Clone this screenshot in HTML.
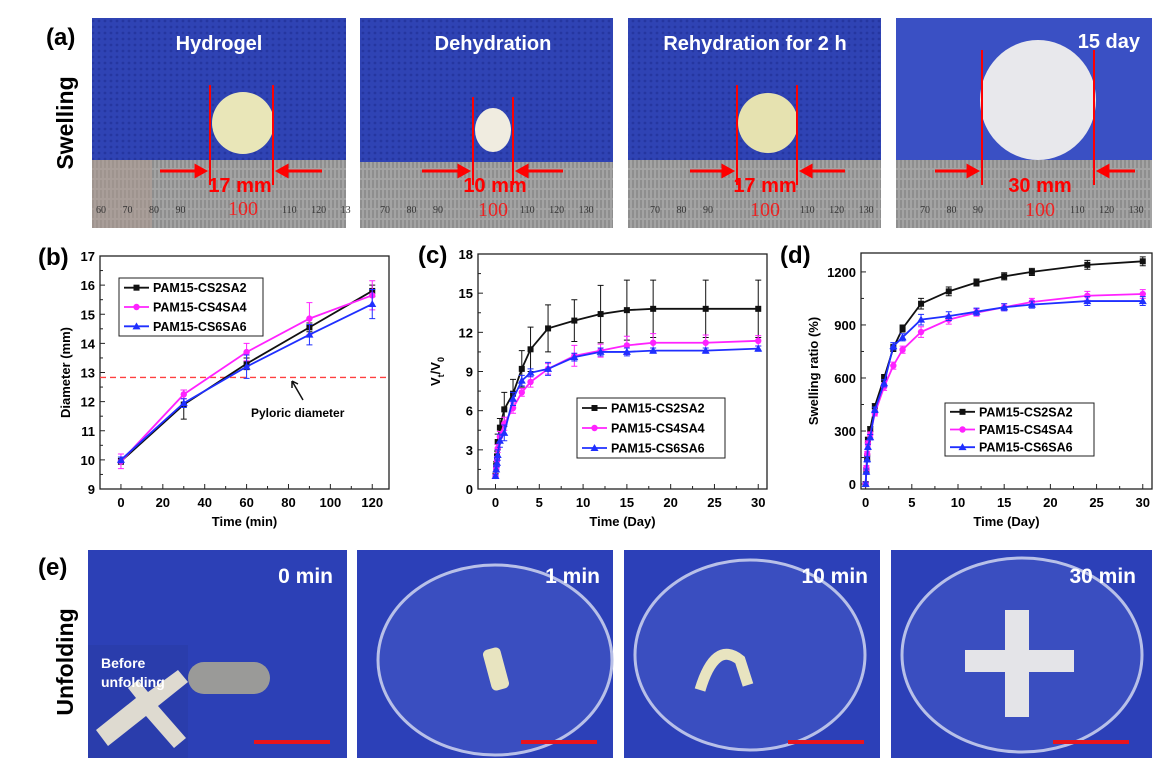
<!DOCTYPE html>
<html><head><meta charset="utf-8"><style>
body{margin:0;background:#fff}
svg{display:block;font-family:"Liberation Sans",Arial,sans-serif}
</style></head><body>
<svg id="fig" width="1170" height="768" viewBox="0 0 1170 768" xmlns="http://www.w3.org/2000/svg">
<defs>
<pattern id="mesh" width="6" height="6" patternUnits="userSpaceOnUse"><rect width="6" height="6" fill="#2f43b4"/><circle cx="3" cy="3" r="1.4" fill="#2536a0"/></pattern>
<pattern id="rul" width="4" height="10" patternUnits="userSpaceOnUse"><rect width="4" height="10" fill="#a3a3a3"/><line x1="1" y1="0" x2="1" y2="8" stroke="#6f6f6f" stroke-width="0.8"/></pattern>
</defs>
<text x="46" y="45" font-size="24" font-weight="bold">(a)</text>
<text transform="translate(73,123) rotate(-90)" text-anchor="middle" font-size="23" font-weight="bold">Swelling</text>
<g>
<rect x="92" y="18" width="254" height="210" fill="url(#mesh)"/>
<rect x="92" y="160" width="254" height="68" fill="url(#rul)"/>
<rect x="92" y="160" width="60" height="68" fill="#b09a90" opacity="0.5"/>
<circle cx="243" cy="123" r="31" fill="#e9e6b8"/>
<line x1="210" y1="85" x2="210" y2="185" stroke="#f00" stroke-width="2"/><line x1="273" y1="85" x2="273" y2="185" stroke="#f00" stroke-width="2"/>
<path d="M160 171 H205 M205 171 l-9 -5 v10z M322 171 H278 M278 171 l9 -5 v10z" stroke="#f00" stroke-width="3" fill="#f00"/>
<text x="240" y="192" text-anchor="middle" font-size="20" font-weight="bold" fill="#f00">17 mm</text>
<text x="243" y="215" text-anchor="middle" font-size="20" fill="#e22" font-family="Liberation Serif">100</text>
<text x="96" y="213" font-size="10" fill="#333" font-family="Liberation Serif" word-spacing="14">60 70 80 90</text>
<text x="282" y="213" font-size="10" fill="#333" font-family="Liberation Serif" word-spacing="12">110 120 13</text>
<text x="219" y="50" text-anchor="middle" font-size="20" font-weight="bold" fill="#fff">Hydrogel</text>
</g>
<g>
<rect x="360" y="18" width="253" height="210" fill="url(#mesh)"/>
<rect x="360" y="162" width="253" height="66" fill="url(#rul)"/>
<ellipse cx="493" cy="130" rx="18" ry="22" fill="#f0ece0"/>
<line x1="473" y1="97" x2="473" y2="185" stroke="#f00" stroke-width="2"/><line x1="513" y1="97" x2="513" y2="185" stroke="#f00" stroke-width="2"/>
<path d="M422 171 H468 M468 171 l-9 -5 v10z M563 171 H518 M518 171 l9 -5 v10z" stroke="#f00" stroke-width="3" fill="#f00"/>
<text x="495" y="192" text-anchor="middle" font-size="20" font-weight="bold" fill="#f00">10 mm</text>
<text x="493" y="216" text-anchor="middle" font-size="20" fill="#e22" font-family="Liberation Serif">100</text>
<text x="380" y="213" font-size="10" fill="#333" font-family="Liberation Serif" word-spacing="14">70 80 90</text>
<text x="520" y="213" font-size="10" fill="#333" font-family="Liberation Serif" word-spacing="12">110 120 130</text>
<text x="493" y="50" text-anchor="middle" font-size="20" font-weight="bold" fill="#fff">Dehydration</text>
</g>
<g>
<rect x="628" y="18" width="253" height="210" fill="url(#mesh)"/>
<rect x="628" y="160" width="253" height="68" fill="url(#rul)"/>
<circle cx="768" cy="123" r="30" fill="#e6e2b0"/>
<line x1="737" y1="85" x2="737" y2="185" stroke="#f00" stroke-width="2"/><line x1="797" y1="85" x2="797" y2="185" stroke="#f00" stroke-width="2"/>
<path d="M690 171 H732 M732 171 l-9 -5 v10z M845 171 H802 M802 171 l9 -5 v10z" stroke="#f00" stroke-width="3" fill="#f00"/>
<text x="765" y="192" text-anchor="middle" font-size="20" font-weight="bold" fill="#f00">17 mm</text>
<text x="765" y="216" text-anchor="middle" font-size="20" fill="#e22" font-family="Liberation Serif">100</text>
<text x="650" y="213" font-size="10" fill="#333" font-family="Liberation Serif" word-spacing="14">70 80 90</text>
<text x="800" y="213" font-size="10" fill="#333" font-family="Liberation Serif" word-spacing="12">110 120 130</text>
<text x="755" y="50" text-anchor="middle" font-size="20" font-weight="bold" fill="#fff">Rehydration for 2 h</text>
</g>
<g>
<rect x="896" y="18" width="256" height="210" fill="#3a50c4"/>
<rect x="896" y="160" width="256" height="68" fill="url(#rul)"/>
<ellipse cx="1038" cy="100" rx="58" ry="60" fill="#e8e8ec"/>
<line x1="982" y1="50" x2="982" y2="185" stroke="#f00" stroke-width="2"/><line x1="1094" y1="50" x2="1094" y2="185" stroke="#f00" stroke-width="2"/>
<path d="M935 171 H977 M977 171 l-9 -5 v10z M1135 171 H1099 M1099 171 l9 -5 v10z" stroke="#f00" stroke-width="3" fill="#f00"/>
<text x="1040" y="192" text-anchor="middle" font-size="20" font-weight="bold" fill="#f00">30 mm</text>
<text x="1040" y="216" text-anchor="middle" font-size="20" fill="#e22" font-family="Liberation Serif">100</text>
<text x="920" y="213" font-size="10" fill="#333" font-family="Liberation Serif" word-spacing="14">70 80 90</text>
<text x="1070" y="213" font-size="10" fill="#333" font-family="Liberation Serif" word-spacing="12">110 120 130</text>
<text x="1140" y="48" text-anchor="end" font-size="20" font-weight="bold" fill="#fff">15 day</text>
</g>
<text x="38" y="265" font-size="24" font-weight="bold">(b)</text>
<text x="418" y="263" font-size="24" font-weight="bold">(c)</text>
<text x="780" y="263" font-size="24" font-weight="bold">(d)</text>
<g id="chartB"></g>
<g id="chartC"></g>
<g id="chartD"></g>
<text x="38" y="575" font-size="24" font-weight="bold">(e)</text>
<text transform="translate(73,662) rotate(-90)" text-anchor="middle" font-size="23" font-weight="bold">Unfolding</text>
<g>
<rect x="88" y="550" width="259" height="208" fill="#2c40b6"/>
<rect x="88" y="645" width="100" height="113" fill="#2a3dac"/>
<rect x="188" y="662" width="82" height="32" rx="16" fill="#9a9a98"/>
<path d="M96 730 l40 -32 l-8 -10 l10 -8 l10 12 l30 -22 l10 12 l-30 24 l28 32 l-12 10 l-28 -32 l-38 30z" fill="#dedad0"/>
<text x="101" y="668" font-size="14" font-weight="bold" fill="#fff">Before</text>
<text x="101" y="687" font-size="14" font-weight="bold" fill="#fff">unfolding</text>
<text x="333" y="583" text-anchor="end" font-size="21" font-weight="bold" fill="#fff">0 min</text>
<rect x="254" y="740" width="76" height="4" fill="#e8141c"/>
</g>
<g>
<rect x="357" y="550" width="256" height="208" fill="#2c40b8"/>
<ellipse cx="495" cy="660" rx="117" ry="95" fill="#3a4ec0" stroke="#b8c0e8" stroke-width="3"/>
<rect x="487" y="648" width="18" height="42" rx="5" fill="#e8e4c0" transform="rotate(-15 496 669)"/>
<text x="600" y="583" text-anchor="end" font-size="21" font-weight="bold" fill="#fff">1 min</text>
<rect x="521" y="740" width="76" height="4" fill="#e8141c"/>
</g>
<g>
<rect x="624" y="550" width="256" height="208" fill="#2c40b8"/>
<ellipse cx="750" cy="655" rx="115" ry="95" fill="#3a4ec0" stroke="#b8c0e8" stroke-width="3"/>
<path d="M700 690 q15 -50 40 -30 l8 25" stroke="#e8e4c0" stroke-width="11" fill="none"/>
<text x="868" y="583" text-anchor="end" font-size="21" font-weight="bold" fill="#fff">10 min</text>
<rect x="788" y="740" width="76" height="4" fill="#e8141c"/>
</g>
<g>
<rect x="891" y="550" width="261" height="208" fill="#2c40b8"/>
<ellipse cx="1022" cy="655" rx="120" ry="97" fill="#3a4ec0" stroke="#b8c0e8" stroke-width="3"/>
<path d="M1005 610 h24 v40 h45 v22 h-45 v45 h-24 v-45 h-40 v-22 h40z" fill="#e4e4e8"/>
<text x="1136" y="583" text-anchor="end" font-size="21" font-weight="bold" fill="#fff">30 min</text>
<rect x="1053" y="740" width="76" height="4" fill="#e8141c"/>
</g>
</svg>
<script>
const seriesNames = ["PAM15-CS2SA2","PAM15-CS4SA4","PAM15-CS6SA6"];
const bTimes = [0,30,60,90,120];
const bBlack = [9.95,11.9,13.3,14.55,15.8];
const bMagenta = [9.95,12.25,13.7,14.85,15.65];
const bBlue = [10,11.95,13.2,14.3,15.35];
const bBlackErr = [0.1,0.5,0.2,0.15,0.2];
const bMagentaErr = [0.25,0.15,0.3,0.55,0.5];
const bBlueErr = [0.1,0.15,0.4,0.35,0.5];
const bPyloric = 12.83;
const bYTicks = [9,10,11,12,13,14,15,16,17];
const bXTicks = [0,20,40,60,80,100,120];

const cdTimes = [0,0.08,0.17,0.25,0.5,1,2,3,4,6,9,12,15,18,24,30];
const cBlack = [1,1.8,2.5,3.6,4.7,6.1,7.3,9.2,10.7,12.3,12.9,13.4,13.7,13.8,13.8,13.8];
const cMagenta = [1,1.6,2.2,3.1,4.0,5.0,6.2,7.4,8.2,9.2,10.2,10.6,11.0,11.2,11.2,11.35];
const cBlue = [1,1.5,2.0,2.6,3.7,4.3,6.9,8.3,8.9,9.2,10.1,10.5,10.5,10.6,10.6,10.75];
const cBlackErr = [0.2,0.3,0.4,0.6,0.7,1.3,1.1,1.4,1.7,1.8,1.6,2.2,2.3,2.2,2.2,2.2];
const cMagentaErr = [0.1,0.2,0.3,0.3,0.4,0.5,0.4,0.3,0.4,0.4,0.8,0.5,0.7,0.7,0.6,0.4];
const cBlueErr = [0.1,0.2,0.3,0.4,0.5,0.6,0.5,0.4,0.3,0.5,0.3,0.3,0.3,0.2,0.2,0.2];
const cYTicks = [0,3,6,9,12,15,18];
const cdXTicks = [0,5,10,15,20,25,30];

const dBlack = [0,80,150,250,310,440,600,770,880,1020,1090,1140,1175,1200,1240,1260];
const dMagenta = [0,90,170,230,280,400,550,670,760,860,930,970,1000,1030,1065,1075];
const dBlue = [0,70,140,210,265,420,570,780,830,930,950,975,1000,1015,1035,1035];
const dErr = [10,15,15,15,15,15,20,20,20,30,25,20,20,20,25,25];
const dYTicks = [0,300,600,900,1200];

const NS="http://www.w3.org/2000/svg";
function mk(parent,tag,attrs){const e=document.createElementNS(NS,tag);for(const k in attrs)e.setAttribute(k,attrs[k]);parent.appendChild(e);return e;}
const colors=["#111","#ff22ff","#1f2fff"];
function marker(g,shape,x,y,c){
  let m;
  if(shape===0) m=mk(g,"rect",{x:x-3,y:y-3,width:6,height:6,fill:c});
  else if(shape===1) m=mk(g,"circle",{cx:x,cy:y,r:3.2,fill:c});
  else m=mk(g,"path",{d:`M${x} ${y-4}L${x+4} ${y+3}L${x-4} ${y+3}Z`,fill:c});
  return m;
}
function chart(g,o){
  const X=v=>o.L+(v-o.x0)/(o.x1-o.x0)*(o.R-o.L);
  const Y=v=>o.B-(v-o.y0)/(o.y1-o.y0)*(o.B-o.T);
  const f=mk(g,"rect",{x:o.L,y:o.T,width:o.R-o.L,height:o.B-o.T,fill:"none",stroke:"#222","stroke-width":1.3});
  
  
  o.xt.forEach((t,i)=>{
    mk(g,"line",{x1:X(t),x2:X(t),y1:o.B,y2:o.B-5,stroke:"#222"});
    const tx=mk(g,"text",{x:X(t),y:o.B+18,"text-anchor":"middle","font-size":13,"font-weight":"bold"});tx.textContent=t;
    
    
    if(i<o.xt.length-1){const h=(t+o.xt[i+1])/2;mk(g,"line",{x1:X(h),x2:X(h),y1:o.B,y2:o.B-3,stroke:"#222"});}
  });
  o.yt.forEach((t,i)=>{
    mk(g,"line",{x1:o.L,x2:o.L+5,y1:Y(t),y2:Y(t),stroke:"#222"});
    const tx=mk(g,"text",{x:o.L-5,y:Y(t)+5,"text-anchor":"end","font-size":13,"font-weight":"bold"});tx.textContent=t;
    
    
    if(i<o.yt.length-1){const h=(t+o.yt[i+1])/2;mk(g,"line",{x1:o.L,x2:o.L+3,y1:Y(h),y2:Y(h),stroke:"#222"});}
  });
  const xl=mk(g,"text",{x:(o.L+o.R)/2,y:o.B+37,"text-anchor":"middle","font-size":13,"font-weight":"bold"});xl.textContent=o.xlabel;
  
  
  const yl=mk(g,"text",{transform:`translate(${o.ylx},${(o.T+o.B)/2}) rotate(-90)`,"text-anchor":"middle","font-size":13,"font-weight":"bold"});
  if(o.ylabelSub){yl.textContent="V";const s1=mk(yl,"tspan",{"font-size":9,dy:4});s1.textContent="t";const s2=mk(yl,"tspan",{dy:-4});s2.textContent="/V";const s3=mk(yl,"tspan",{"font-size":9,dy:4});s3.textContent="0";}
  else yl.textContent=o.ylabel;
  
  
  if(o.extra) o.extra(g,X,Y);
  o.series.forEach((s,si)=>{
    const c=colors[si];
    const sg=mk(g,"g",{});
    
    
    s.v.forEach((v,i)=>{const x=X(o.xs[i]);mk(sg,"path",{d:`M${x} ${Y(v-s.e[i])}V${Y(v+s.e[i])}M${x-3} ${Y(v-s.e[i])}h6M${x-3} ${Y(v+s.e[i])}h6`,stroke:c,"stroke-width":1,fill:"none"});});
    mk(sg,"polyline",{points:s.v.map((v,i)=>X(o.xs[i])+","+Y(v)).join(" "),fill:"none",stroke:c,"stroke-width":1.8});
    s.v.forEach((v,i)=>{const m=marker(sg,si,X(o.xs[i]),Y(v),c);
      
      });
  });
  const lg=mk(g,"g",{});
  
  
  const [lx,ly,lw,lh]=o.leg;
  mk(lg,"rect",{x:lx,y:ly,width:lw,height:lh,fill:"#fff",stroke:"#222","stroke-width":1});
  seriesNames.forEach((n,i)=>{
    const yy=ly+lh/6+i*lh/3;
    const le=mk(lg,"g",{});
    
    
    mk(le,"line",{x1:lx+5,x2:lx+30,y1:yy,y2:yy,stroke:colors[i],"stroke-width":1.8});
    marker(le,i,lx+17.5,yy,colors[i]);
    const t=mk(le,"text",{x:lx+34,y:yy+4.5,"font-size":12.5,"font-weight":"bold"});t.textContent=n;
  });
}
chart(document.getElementById("chartB"),{L:100,R:389,T:256,B:489,x0:-10,x1:128,y0:9,y1:17,xt:bXTicks,yt:bYTicks,xs:bTimes,
  xlabel:"Time (min)",ylabel:"Diameter (mm)",ylx:70,leg:[119,278,144,58],
  series:[{v:bBlack,e:bBlackErr},{v:bMagenta,e:bMagentaErr},{v:bBlue,e:bBlueErr}],
  extra:(g,X,Y)=>{
    const l=mk(g,"line",{x1:100,x2:389,y1:Y(bPyloric),y2:Y(bPyloric),stroke:"#ff4040","stroke-width":1.3,"stroke-dasharray":"6 4"});
    
    
    mk(g,"path",{d:`M303 400 L292 381 M292 381 l0 7 M292 381 l6 3`,stroke:"#111","stroke-width":1.5,fill:"none"});
    const t=mk(g,"text",{x:251,y:417,"font-size":12,"font-weight":"bold"});t.textContent="Pyloric diameter";
    
    
  }});
chart(document.getElementById("chartC"),{L:478,R:767,T:254,B:489,x0:-2,x1:31,y0:0,y1:18,xt:cdXTicks,yt:cYTicks,xs:cdTimes,
  xlabel:"Time (Day)",ylabel:"",ylabelSub:true,ylx:440,leg:[577,398,148,60],
  series:[{v:cBlack,e:cBlackErr},{v:cMagenta,e:cMagentaErr},{v:cBlue,e:cBlueErr}]});
chart(document.getElementById("chartD"),{L:861,R:1152,T:253,B:489,x0:-0.5,x1:31,y0:-28,y1:1307,xt:cdXTicks,yt:dYTicks,xs:cdTimes,
  xlabel:"Time (Day)",ylabel:"Swelling ratio (%)",ylx:818,leg:[945,403,149,53],
  series:[{v:dBlack,e:dErr},{v:dMagenta,e:dErr},{v:dBlue,e:dErr}]});
</script>
</body></html>
